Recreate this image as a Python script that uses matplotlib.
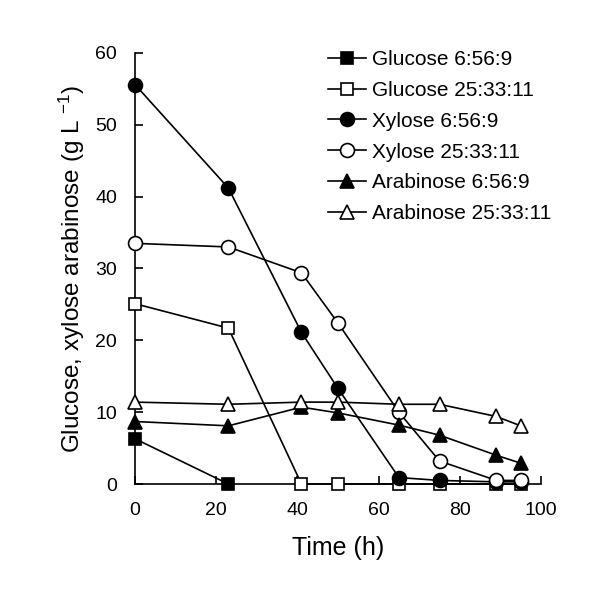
import matplotlib
matplotlib.use("Agg")
import matplotlib.pyplot as plt

plt.rcParams['font.family'] = ['Liberation Sans', 'DejaVu Sans']
plt.rcParams['mathtext.default'] = 'regular'

time_h = [0, 23, 41, 50, 65, 75, 89, 95]
glucose_a_t = [0, 23]
glucose_a = [6.3, 0.0]
glucose_b = [25.1, 21.7, 0.0, 0.0, 0.0, 0.0, 0.0, 0.0]
xylose_a = [55.6, 41.2, 21.1, 13.3, 0.9, 0.5, 0.3, 0.3]
xylose_b = [33.5, 33.0, 29.4, 22.4, 10.0, 3.2, 0.5, 0.5]
arabinose_a = [8.7, 8.1, 10.7, 9.9, 8.2, 6.8, 4.0, 2.9]
arabinose_b = [11.4, 11.1, 11.4, 11.4, 11.1, 11.1, 9.4, 8.1]

labels = ["Glucose 6:56:9", "Glucose 25:33:11", "Xylose 6:56:9",
          "Xylose 25:33:11", "Arabinose 6:56:9", "Arabinose 25:33:11"]

fig = plt.figure(figsize=(6, 6), dpi=100)
ax = fig.add_axes([0.225, 0.1933, 0.6767, 0.7184])

common = dict(color='black', lw=1.2, markeredgecolor='black', markeredgewidth=1.2, clip_on=False, zorder=3)
ax.plot(glucose_a_t, glucose_a, marker='s', ms=9, markerfacecolor='black', label=labels[0], **common)
ax.plot(time_h, glucose_b, marker='s', ms=9, markerfacecolor='white', label=labels[1], **common)
ax.plot(time_h, xylose_a, marker='o', ms=10, markerfacecolor='black', label=labels[2], **common)
ax.plot(time_h, xylose_b, marker='o', ms=10, markerfacecolor='white', label=labels[3], **common)
ax.plot(time_h, arabinose_a, marker='^', ms=10, markerfacecolor='black', label=labels[4], **common)
ax.plot(time_h, arabinose_b, marker='^', ms=10, markerfacecolor='white', label=labels[5], **common)

ax.set_xlim(0, 100)
ax.set_ylim(0, 60)
ax.set_xticks([0, 20, 40, 60, 80, 100])
ax.set_yticks([0, 10, 20, 30, 40, 50, 60])
ax.spines['top'].set_visible(False)
ax.spines['right'].set_visible(False)
for s in ['left', 'bottom']:
    ax.spines[s].set_linewidth(1.2)
ax.tick_params(direction='in', length=6, width=1.2, labelsize=14, pad=13)

ax.set_xlabel("Time (h)", fontsize=18, labelpad=12)
ax.set_ylabel("Glucose, xylose arabinose (g L $^{-1}$)", fontsize=17.5, labelpad=6)

leg = ax.legend(loc='upper left', bbox_to_anchor=(328 / 600, 1 - 50 / 600),
                bbox_transform=fig.transFigure, frameon=False, fontsize=15,
                borderaxespad=0, borderpad=0,
                handlelength=1.8, handletextpad=0.3, labelspacing=0.57)

fig.savefig("out.png", dpi=100)
